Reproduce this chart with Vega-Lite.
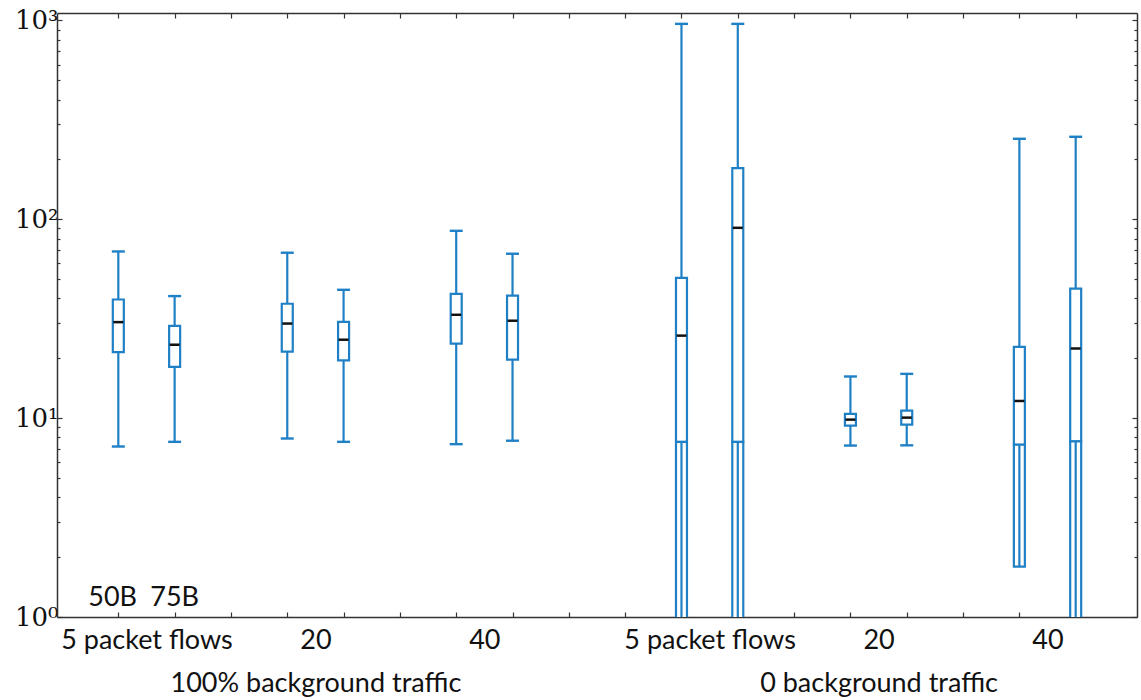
{
  "$schema": "https://vega.github.io/schema/vega-lite/v6.json",
  "autosize": "none",
  "width": 1080,
  "height": 604,
  "padding": {"left": 57, "top": 13, "right": 4, "bottom": 83},
  "background": "white",
  "config": {
    "view": {"stroke": null},
    "axis": {"grid": false, "domainColor": "#333333", "domainWidth": 1.5, "tickColor": "#333333", "tickWidth": 1.2, "title": null}
  },
  "datasets": {
    "boxes": [
      {"group": "100% background traffic", "flows": "5", "size": "50B", "pos": 1, "lower": 7.2, "q1": 21.5, "median": 30.4, "q3": 39.5, "upper": 68.9},
      {"group": "100% background traffic", "flows": "5", "size": "75B", "pos": 2, "lower": 7.6, "q1": 18.1, "median": 23.4, "q3": 29.1, "upper": 41.1},
      {"group": "100% background traffic", "flows": "20", "size": "50B", "pos": 4, "lower": 7.9, "q1": 21.6, "median": 29.9, "q3": 37.6, "upper": 67.9},
      {"group": "100% background traffic", "flows": "20", "size": "75B", "pos": 5, "lower": 7.6, "q1": 19.5, "median": 24.8, "q3": 30.5, "upper": 44.2},
      {"group": "100% background traffic", "flows": "40", "size": "50B", "pos": 7, "lower": 7.4, "q1": 23.7, "median": 33.1, "q3": 42.2, "upper": 87.5},
      {"group": "100% background traffic", "flows": "40", "size": "75B", "pos": 8, "lower": 7.7, "q1": 19.7, "median": 30.9, "q3": 41.3, "upper": 67.1},
      {"group": "0 background traffic", "flows": "5", "size": "50B", "pos": 11, "lower": 7.6, "q1": 0.5, "median": 26.0, "q3": 50.8, "upper": 961},
      {"group": "0 background traffic", "flows": "5", "size": "75B", "pos": 12, "lower": 7.6, "q1": 0.5, "median": 90.6, "q3": 181, "upper": 961},
      {"group": "0 background traffic", "flows": "20", "size": "50B", "pos": 14, "lower": 7.28, "q1": 9.17, "median": 9.83, "q3": 10.5, "upper": 16.2},
      {"group": "0 background traffic", "flows": "20", "size": "75B", "pos": 15, "lower": 7.3, "q1": 9.27, "median": 10.06, "q3": 10.9, "upper": 16.7},
      {"group": "0 background traffic", "flows": "40", "size": "50B", "pos": 17, "lower": 7.36, "q1": 1.79, "median": 12.2, "q3": 22.8, "upper": 254},
      {"group": "0 background traffic", "flows": "40", "size": "75B", "pos": 18, "lower": 7.65, "q1": 0.5, "median": 22.4, "q3": 44.8, "upper": 260}
    ],
    "sizes": [
      {"pos": 0.9, "size": "50B"},
      {"pos": 2, "size": "75B"}
    ]
  },
  "data": {"name": "boxes"},
  "resolve": {"axis": {"x": "independent", "y": "independent"}},
  "layer": [
    {
      "mark": {"type": "bar", "size": 11, "fill": "white", "stroke": "#1f80c6", "strokeWidth": 2.2, "clip": true},
      "encoding": {
        "x": {
          "field": "pos", "type": "quantitative",
          "scale": {"domain": [0, 19], "nice": false, "zero": false},
          "axis": {
            "orient": "bottom",
            "values": [1, 1.5, 2, 3, 4, 4.5, 5, 6, 7, 7.5, 8, 9, 10, 11, 11.5, 12, 13, 14, 14.5, 15, 16, 17, 17.5, 18],
            "tickSize": -5,
            "tickOpacity": {"condition": {"test": "datum.value % 1 != 0", "value": 0}, "value": 1},
            "labelExpr": "datum.value == 1.5 ? '5 packet flows' : datum.value == 4.5 ? ['20', '100% background traffic'] : datum.value == 7.5 ? '40' : datum.value == 11.5 ? '5 packet flows' : datum.value == 14.5 ? ['20', '0 background traffic'] : datum.value == 17.5 ? '40' : ''",
            "labelFont": "Lato",
            "labelFontSize": 27,
            "labelColor": "#111111",
            "labelBaseline": "top",
            "labelAlign": "center",
            "labelPadding": 15,
            "labelLineHeight": 43,
            "labelLimit": 0,
            "labelOverlap": false,
            "labelFlush": false,
            "labelBound": false
          }
        },
        "y": {
          "field": "q1", "type": "quantitative",
          "scale": {"type": "log", "domain": [1, 1090], "nice": false},
          "axis": {
            "orient": "left",
            "values": [1, 2, 3, 4, 5, 6, 7, 8, 9, 10, 20, 30, 40, 50, 60, 70, 80, 90, 100, 200, 300, 400, 500, 600, 700, 800, 900, 1000],
            "tickSize": {"condition": {"test": "indexof([1, 10, 100, 1000], datum.value) >= 0", "value": -5}, "value": -3},
            "labelExpr": "datum.value == 1 ? '10⁰' : datum.value == 10 ? '10¹' : datum.value == 100 ? '10²' : datum.value == 1000 ? '10³' : ''",
            "labelFont": "DejaVu Serif",
            "labelFontSize": 26,
            "labelColor": "#111111",
            "labelPadding": 4,
            "labelLimit": 0,
            "labelOverlap": false,
            "labelFlush": false,
            "labelBound": false
          }
        },
        "y2": {"field": "q3"}
      }
    },
    {
      "mark": {"type": "rule", "stroke": "#1f80c6", "strokeWidth": 2.2, "clip": true},
      "encoding": {
        "x": {
          "field": "pos", "type": "quantitative",
          "axis": {"orient": "top", "values": [1, 2, 3, 4, 5, 6, 7, 8, 9, 10, 11, 12, 13, 14, 15, 16, 17, 18], "tickSize": -5, "labels": false}
        },
        "y": {
          "field": "q3", "type": "quantitative",
          "axis": {
            "orient": "right",
            "values": [1, 2, 3, 4, 5, 6, 7, 8, 9, 10, 20, 30, 40, 50, 60, 70, 80, 90, 100, 200, 300, 400, 500, 600, 700, 800, 900, 1000],
            "tickSize": {"condition": {"test": "indexof([1, 10, 100, 1000], datum.value) >= 0", "value": -5}, "value": -3},
            "labels": false
          }
        },
        "y2": {"field": "upper"}
      }
    },
    {
      "mark": {"type": "rule", "stroke": "#1f80c6", "strokeWidth": 2.2, "clip": true},
      "encoding": {
        "x": {"field": "pos", "type": "quantitative", "axis": null},
        "y": {"field": "lower", "type": "quantitative", "axis": null},
        "y2": {"field": "q1"}
      }
    },
    {
      "mark": {"type": "tick", "orient": "horizontal", "size": 13, "thickness": 2.4, "color": "#1f80c6", "opacity": 1, "clip": true},
      "encoding": {
        "x": {"field": "pos", "type": "quantitative", "axis": null},
        "y": {"field": "upper", "type": "quantitative", "axis": null}
      }
    },
    {
      "mark": {"type": "tick", "orient": "horizontal", "size": 13, "thickness": 2.4, "color": "#1f80c6", "opacity": 1, "clip": true},
      "encoding": {
        "x": {"field": "pos", "type": "quantitative", "axis": null},
        "y": {"field": "lower", "type": "quantitative", "axis": null}
      }
    },
    {
      "mark": {"type": "tick", "orient": "horizontal", "size": 10, "thickness": 2.5, "color": "#111111", "opacity": 1, "clip": true},
      "encoding": {
        "x": {"field": "pos", "type": "quantitative", "axis": null},
        "y": {"field": "median", "type": "quantitative", "axis": null}
      }
    },
    {
      "data": {"name": "sizes"},
      "mark": {"type": "text", "font": "Lato", "fontSize": 27, "color": "#111111", "align": "center", "baseline": "middle"},
      "encoding": {
        "x": {"field": "pos", "type": "quantitative", "axis": null},
        "y": {"datum": 1.24, "type": "quantitative", "axis": null},
        "text": {"field": "size"}
      }
    }
  ]
}
